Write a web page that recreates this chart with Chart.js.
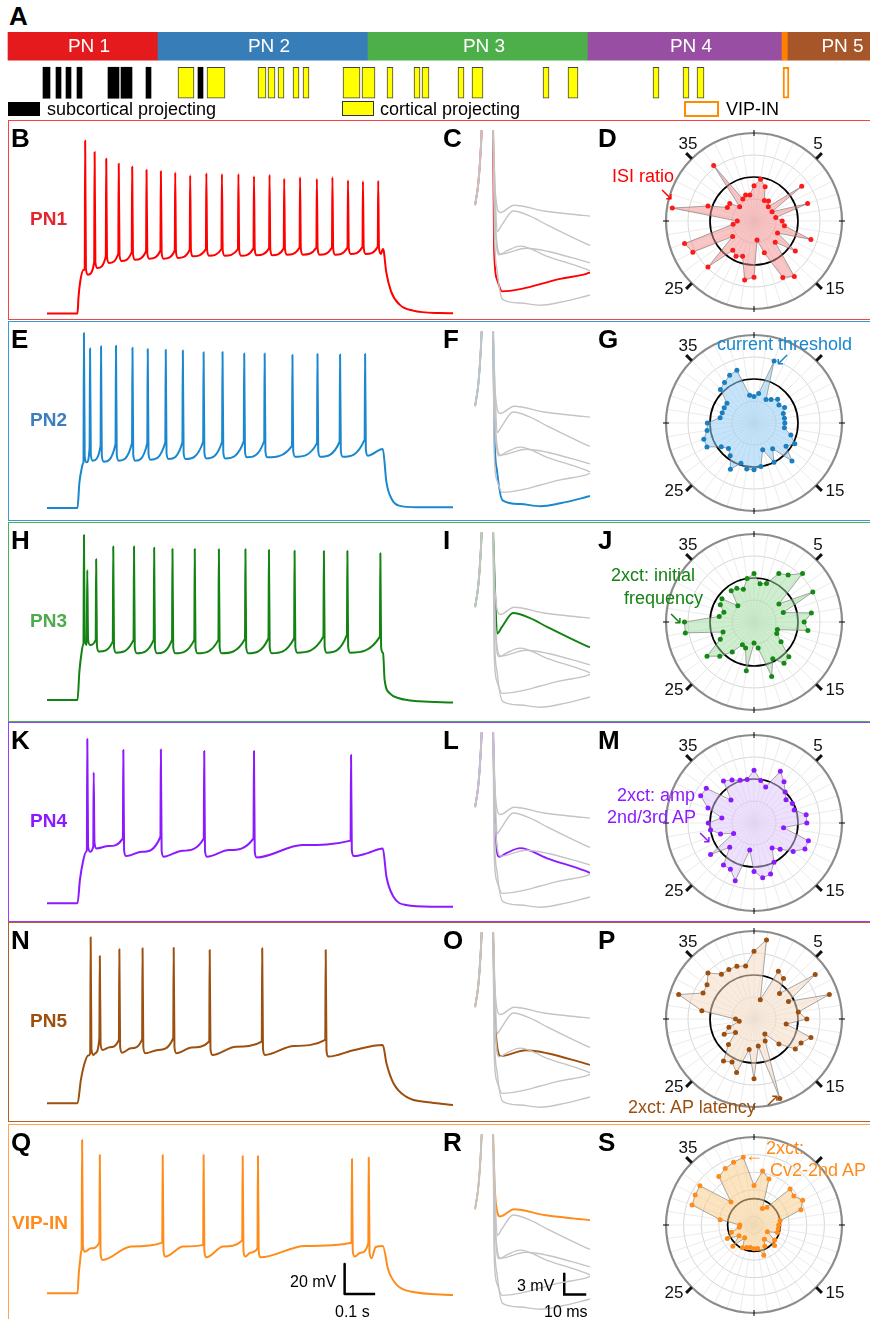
<!DOCTYPE html>
<html>
<head>
<meta charset="utf-8">
<title>Electrophysiological clusters</title>
<script src="https://cdn.jsdelivr.net/npm/chart.js@4.4.1/dist/chart.umd.min.js"></script>
<style>
  body { margin: 0; background: #fff; font-family: "Liberation Sans", Arial, sans-serif; }
  #page { position: relative; width: 870px; height: 1319px; overflow: hidden; }
  .abs { position: absolute; white-space: nowrap; line-height: 1; }
  .letter { font-weight: bold; font-size: 26px; color: #000; }
  .rowbox { position: absolute; left: 8px; width: 880px; height: 200px; box-sizing: border-box; border: 1.4px solid; }
  .rowname { font-weight: bold; font-size: 19px; }
  .tick { font-size: 17px; color: #111; transform: translate(-50%, -50%); }
  .note { font-size: 18px; }
  .legend { font-size: 18px; }
  .bar { font-size: 16px; }
  canvas { position: absolute; }
</style>
</head>
<body>
<div id="page">
  <div class="abs letter" style="left:9px;top:3px">A</div>
  <canvas id="clusters" width="870" height="73" style="left:0;top:28px"></canvas>
  <div class="abs" style="left:8px;top:102px;width:32px;height:14px;background:#000"></div>
  <div class="abs legend" style="left:47px;top:100px">subcortical projecting</div>
  <div class="abs" style="left:342px;top:101px;width:32px;height:15px;background:#ffff00;border:1px solid #333;box-sizing:border-box"></div>
  <div class="abs legend" style="left:380px;top:100px">cortical projecting</div>
  <div class="abs" style="left:684px;top:101px;width:35px;height:16px;border:2px solid #ff8c00;box-sizing:border-box"></div>
  <div class="abs legend" style="left:726px;top:100px">VIP-IN</div>
</div>
<script>
// ---- panel A: clusters along the dendrogram (x = leaf position) ----
const clusterNames = ['PN 1', 'PN 2', 'PN 3', 'PN 4', '', 'PN 5'];
const clusterStart = [8, 158, 368, 588, 782, 788];
const clusterEnd = [158, 368, 588, 782, 788, 885];
const subcorticalCells = [[43, 50], [56, 61], [66, 71], [77, 82], [108, 119], [121, 132], [146, 151], [198, 203]];
const corticalCells = [[178, 194], [207, 225], [258, 266], [268, 275], [278, 284], [293, 299], [303, 309], [343, 360], [362, 375],
  [387, 393], [414, 420], [422, 429], [458, 464], [472, 483], [543, 549], [568, 578], [653, 659], [683, 689], [697, 704]];
const vipCells = [[783, 789]];

// ---- voltage traces (t in s, Vm in mV) ----
const pn1Onset = [[0, -79], [0.003, -68.7], [0.009, -57.5], [0.02, -49.8]];
const pn1SpikeT = [0.025, 0.056, 0.094, 0.135, 0.179, 0.226, 0.273, 0.320, 0.369, 0.422, 0.473, 0.527, 0.578, 0.629, 0.677, 0.729, 0.784, 0.835, 0.886, 0.935, 0.985];
const pn1Pre = [-50, -45, -41, -39, -38, -37.5, -37, -37, -36.5, -36, -36, -36, -35.5, -35.5, -35.5, -35, -35, -35, -35, -34.5, -34.5];
const pn1Peak = [36.2, 28.7, 24.2, 20.9, 18.9, 16.7, 15.8, 15.1, 13.1, 14.5, 14.0, 14.0, 12.5, 13.5, 10.9, 11.8, 10.7, 11.8, 9.8, 9.1, 9.5];
const pn1Trough = [-53.1, -48.7, -45.3, -44.0, -43.1, -42.5, -42.5, -42.0, -40.9, -40.5, -40.5, -40.5, -40.2, -40.2, -39.8, -39.8, -39.8, -39.8, -39.3, -39.3, -39.3];
const pn1Offset = [[1.0, -36], [1.003, -37.1], [1.011, -50.9], [1.027, -64.2], [1.055, -73.1], [1.099, -77.1], [1.186, -78.7], [1.23, -78.8]];

const pn2Onset = [[0, -74.7], [0.006, -58], [0.014, -48], [0.019, -44.5]];
const pn2SpikeT = [0.021, 0.041, 0.077, 0.126, 0.180, 0.230, 0.289, 0.345, 0.413, 0.475, 0.546, 0.613, 0.704, 0.786, 0.860, 0.942];
const pn2Pre = [-44.2, -34.3, -33.2, -32, -31.4, -31.4, -30.9, -30.9, -30.5, -30.5, -30.3, -30, -33.2, -31.4, -30.5, -29.1];
const pn2Peak = [42, 31.7, 33.1, 33.5, 32.2, 31.3, 30.9, 30.4, 29.1, 29.3, 28.4, 28.4, 27.3, 28, 27.7, 28];
const pn2Trough = [-44.2, -43.1, -43.8, -43.1, -43.1, -42.5, -42, -42, -41.6, -41.6, -40.9, -40.9, -40.5, -40.5, -40.5, -39.8];
const pn2Offset = [[1.0, -35.4], [1.012, -57.6], [1.029, -68.7], [1.053, -73.1], [1.111, -74.2], [1.23, -74.2]];

const pn3Onset = [[0, -68.7], [0.006, -50], [0.014, -36], [0.019, -31.5]];
const pn3SpikeT = [0.021, 0.032, 0.061, 0.117, 0.185, 0.251, 0.311, 0.384, 0.463, 0.550, 0.627, 0.711, 0.807, 0.884, 0.992];
const pn3Pre = [-30.9, -24.2, -28.6, -29.7, -28.6, -28.6, -28.6, -28.6, -28.6, -28, -27.5, -27.5, -26.4, -25.3, -26.4];
const pn3Peak = [41.4, 18, 25.1, 33.6, 33.6, 32.9, 32, 32, 31.8, 31.8, 31.4, 30.9, 30.7, 30.7, 29.1];
const pn3Trough = [-32, -32, -36.4, -37.1, -37.5, -37.5, -37.5, -37.5, -37.5, -37.5, -37.5, -37.1, -37.1, -37.1, -37.5];
const pn3Offset = [[1.006, -55.3], [1.023, -64.2], [1.053, -67.5], [1.12, -69.5], [1.23, -70.4]];

const pn4Onset = [[0, -70.9], [0.008, -55], [0.018, -43], [0.028, -36.5]];
const pn4SpikeT = [0.032, 0.053, 0.150, 0.273, 0.415, 0.578, 0.896];
const pn4Pre = [-35.4, -33, -27.6, -26.5, -27.6, -27.6, -29.1];
const pn4Peak = [38.6, 16.4, 31.3, 31.7, 30.6, 30.6, 28];
const pn4Trough = [-36.5, -34.3, -39.4, -39.8, -39.8, -40.3, -39.4];
const pn4Mid = [null, -32.7, -36.5, -35.8, -35.4, -32, -37.6];
const pn4Offset = [[1.0, -34.3], [1.012, -53.2], [1.035, -66.5], [1.076, -72], [1.158, -73.1], [1.23, -73.1]];

const pn5Onset = [[0, -70.9], [0.011, -55.3], [0.023, -44.2], [0.035, -39]];
const pn5SpikeT = [0.043, 0.073, 0.137, 0.213, 0.315, 0.433, 0.605, 0.813];
const pn5Pre = [-37.5, -27.5, -28.6, -28.2, -27.5, -29.7, -29.7, -28.6];
const pn5Peak = [39.8, 27.4, 31.8, 32.5, 32.9, 31.4, 32.5, 31.4];
const pn5Trough = [-38.6, -35.3, -37.1, -37.5, -37.5, -38.6, -38.6, -39.7];
const pn5Mid = [-37.5, -33.5, -34.2, -35.3, -33.7, -33.1, -32.6, -35.3];
const pn5Offset = [[1.0, -32], [1.012, -44.2], [1.035, -57.5], [1.076, -66.4], [1.158, -70.4], [1.23, -72]];

const vipOnset = [[0, -62.9], [0.004, -50], [0.009, -40], [0.012, -35]];
const vipSpikeT = [0.015, 0.073, 0.279, 0.413, 0.541, 0.591, 0.899, 0.954];
const vipPre = [-34, -29.1, -29.1, -30.6, -27.7, -32.9, -29.1, -29.5];
const vipPeak = [39.4, 29.4, 29.4, 29.4, 28.7, 28.7, 26.7, 27.6];
const vipTrough = [-35.1, -40.6, -38.4, -38.9, -38.4, -38.9, -38.4, -39.5];
const vipMid = [-32.9, -31.7, -31.7, -31.7, -35.8, -31.3, -35.8, -32];
const vipOffset = [[1.0, -31.3], [1.018, -47.3], [1.046, -57.3], [1.092, -61.7], [1.23, -64]];

const traceScaleT = [0.875, 0.975];      // 0.1 s
const traceScaleMv = [-43.3, -63.3];     // 20 mV

// ---- first spike, zoomed (t in ms, Vm in mV relative to panel top) ----
const spikeRise = [[-8.2, -10.3], [-6.8, -7.5], [-5.9, -4.1], [-5.2, 0], [-2.7, 30], [0, 0]];
const ahpPN1 = [[0.45, -16.4], [1.8, -20.5], [4.1, -22.1], [12.3, -21.8], [21.4, -21.1], [30.5, -20.4], [42.3, -19.7], [44, -19.5]];
const ahpPN2 = [[0.6, -14], [1.8, -19.2], [4.3, -23.2], [12.3, -23.7], [21.4, -24], [30.5, -23.6], [41.6, -22.8], [44, -22.6]];
const ahpPN3 = [[0.9, -8.2], [1.8, -13.9], [4.0, -13.0], [9.1, -11.1], [16.8, -11.8], [24.5, -13], [41.6, -15.5], [44, -15.8]];
const ahpPN4 = [[0.9, -12.3], [2.7, -17.1], [6, -16.6], [12.3, -15.9], [24.5, -17.3], [41.6, -19], [44, -19.3]];
const ahpPN5 = [[0.9, -12.3], [3.5, -17], [14.9, -16.2], [24.5, -16.6], [41.6, -18], [44, -18.2]];
const ahpVIP = [[0.9, -8.2], [3.2, -11.3], [9.5, -10.3], [23.2, -11.1], [40.9, -11.7], [44, -11.8]];
const zoomScaleMs = [32.3, 42.3];        // 10 ms
const zoomScaleMv = [-19, -22];          // 3 mV

// ---- radar plots: 40 electrophysiological features (normalised) ----
const featureIds = Array.from({ length: 40 }, (_, i) => String(i));
const pn1Features = [0.40, 0.48, 0.41, 0.26, 0.28, 0.23, 0.67, 0.23, 0.64, 0.25, 0.32, 0.35, 0.68, 0.30, 0.58, 0.34, 0.78, 0.72, 0.38, 0.22,
  0.64, 0.68, 0.42, 0.45, 0.41, 0.74, 0.30, 0.78, 0.83, 0.24, 0.19, 0.94, 0.55, 0.34, 0.34, 0.23, 0.78, 0.28, 0.31, 0.30];
const pn2Features = [0.30, 0.34, 0.74, 0.30, 0.33, 0.38, 0.35, 0.39, 0.35, 0.35, 0.35, 0.35, 0.44, 0.52, 0.45, 0.61, 0.36, 0.50, 0.32, 0.50,
  0.53, 0.53, 0.48, 0.59, 0.46, 0.41, 0.46, 0.60, 0.60, 0.54, 0.53, 0.39, 0.38, 0.38, 0.38, 0.54, 0.57, 0.61, 0.63, 0.32];
const pn3Features = [0.55, 0.44, 0.46, 0.62, 0.66, 0.78, 0.35, 0.75, 0.35, 0.66, 0.57, 0.62, 0.28, 0.29, 0.38, 0.56, 0.58, 0.47, 0.65, 0.30,
  0.24, 0.56, 0.31, 0.29, 0.42, 0.55, 0.66, 0.43, 0.37, 0.79, 0.79, 0.40, 0.36, 0.43, 0.45, 0.26, 0.44, 0.43, 0.39, 0.50];
const pn4Features = [0.60, 0.49, 0.43, 0.66, 0.58, 0.50, 0.45, 0.49, 0.48, 0.60, 0.60, 0.34, 0.65, 0.65, 0.55, 0.42, 0.35, 0.50, 0.61, 0.63,
  0.55, 0.31, 0.69, 0.59, 0.59, 0.39, 0.61, 0.26, 0.40, 0.50, 0.52, 0.37, 0.55, 0.68, 0.67, 0.37, 0.59, 0.55, 0.51, 0.50];
const pn5Features = [0.77, 0.91, 0.23, 0.61, 0.57, 0.41, 0.86, 0.44, 0.90, 0.51, 0.60, 0.37, 0.68, 0.60, 0.58, 0.40, 0.21, 0.28, 0.95, 0.31,
  0.68, 0.35, 0.64, 0.55, 0.59, 0.41, 0.26, 0.38, 0.30, 0.17, 0.21, 0.60, 0.90, 0.65, 0.66, 0.74, 0.63, 0.63, 0.63, 0.61];
const vipFeatures = [0.45, 0.62, 0.55, 0.21, 0.25, 0.58, 0.56, 0.62, 0.56, 0.30, 0.28, 0.28, 0.28, 0.17, 0.29, 0.33, 0.20, 0.27, 0.36, 0.27,
  0.27, 0.26, 0.27, 0.29, 0.18, 0.34, 0.21, 0.34, 0.27, 0.17, 0.16, 0.39, 0.74, 0.75, 0.76, 0.37, 0.68, 0.72, 0.75, 0.78];
const spokeLabels = ['35', '5', '25', '15'];

// ---- styling ----
const clusterColors = ['#e41a1c', '#377eb8', '#4daf4a', '#984ea3', '#ff7f00', '#a65628'];
const rowNames = ['PN1', 'PN2', 'PN3', 'PN4', 'PN5', 'VIP-IN'];
const rowLetters = [['B', 'C', 'D'], ['E', 'F', 'G'], ['H', 'I', 'J'], ['K', 'L', 'M'], ['N', 'O', 'P'], ['Q', 'R', 'S']];
const rowTops = [120, 321, 522, 722, 922, 1124];
const radarCenterY = [101, 102, 100, 101, 97, 101];
const traceColors = ['#ff0000', '#1b87cf', '#138313', '#8c1aff', '#9c4f0e', '#ff8c1a'];
const nameColors = ['#e3262b', '#3b7fc0', '#4cab4c', '#8c1aff', '#9c4f0e', '#ff8c1a'];
const boxColors = ['#ff4040', '#3a9ad9', '#4caf50', '#9a3cff', '#b0602a', '#ffa54d'];
const radarFills = ['rgba(244,140,140,0.5)', 'rgba(150,205,245,0.55)', 'rgba(160,220,160,0.5)', 'rgba(222,195,252,0.5)', 'rgba(246,218,196,0.55)', 'rgba(252,205,140,0.55)'];
const dotColors = ['#ff1a1a', '#1a7fc1', '#148a14', '#8a1aff', '#9c4f0e', '#ff8c1a'];
const notes = [
  [['ISI ratio', 612, 167], ['\u2198', 659, 185]],
  [['current threshold', 717, 335], ['\u2199', 775, 350]],
  [['2xct: initial', 611, 566], ['frequency', 624, 589], ['\u2198', 668, 609]],
  [['2xct: amp', 617, 786], ['2nd/3rd AP', 607, 808], ['\u2198', 697, 828]],
  [['2xct: AP latency', 628, 1098], ['\u2197', 765, 1091]],
  [['\u2190', 745, 1146], ['2xct:', 766, 1139], ['Cv2-2nd AP', 770, 1161]]
];
const hiddenSpokeLabel = [null, '5', null, null, null, '5'];   // covered by the annotation

const page = document.getElementById('page');
function addDiv(cls, text, left, top, color) {
  const d = document.createElement('div');
  d.className = 'abs ' + cls;
  d.textContent = text;
  d.style.left = left + 'px';
  d.style.top = top + 'px';
  if (color) d.style.color = color;
  page.appendChild(d);
  return d;
}
function addCanvas(left, top, w, h) {
  const c = document.createElement('canvas');
  c.width = w; c.height = h;
  c.style.left = left + 'px'; c.style.top = top + 'px';
  page.appendChild(c);
  return c;
}

const quiet = { legend: { display: false }, tooltip: { enabled: false } };

// cluster names drawn in the middle of each coloured bar
const clusterLabels = {
  id: 'clusterLabels',
  afterDatasetsDraw(chart) {
    const ctx = chart.ctx;
    ctx.save();
    ctx.font = '19px "Liberation Sans", Arial, sans-serif';
    ctx.fillStyle = '#fff';
    ctx.textAlign = 'center';
    ctx.textBaseline = 'middle';
    chart.getDatasetMeta(0).data.forEach((bar, i) => {
      if (clusterNames[i]) ctx.fillText(clusterNames[i], (bar.x + bar.base) / 2 + 6, bar.y + 1);
    });
    ctx.restore();
  }
};

new Chart(document.getElementById('clusters'), {
  type: 'bar',
  data: {
    labels: ['clusters', 'cells'],
    datasets: [
      { data: clusterStart.map((s, i) => ({ x: [s, clusterEnd[i]], y: 'clusters' })), backgroundColor: clusterColors, barThickness: 28 },
      { data: subcorticalCells.map(c => ({ x: c, y: 'cells' })), backgroundColor: '#000', barThickness: 31 },
      { data: corticalCells.map(c => ({ x: c, y: 'cells' })), backgroundColor: '#ffff00', borderColor: '#444', borderWidth: 1, barThickness: 31 },
      { data: vipCells.map(c => ({ x: c, y: 'cells' })), backgroundColor: '#fff', borderColor: '#ff8c00', borderWidth: 2, barThickness: 31 }
    ]
  },
  options: {
    indexAxis: 'y', responsive: false, animation: false, events: [],
    datasets: { bar: { grouped: false, borderSkipped: false } },
    scales: { x: { type: 'linear', min: 0, max: 870, display: false }, y: { display: false } },
    plugins: quiet
  },
  plugins: [clusterLabels]
});

function buildTrace(onset, t, pre, peak, trough, mid, offset) {
  const pts = [{ x: -0.1, y: onset[0][1] }];
  onset.forEach(p => pts.push({ x: p[0], y: p[1] }));
  t.forEach((ti, i) => {
    pts.push({ x: ti - 0.0015, y: pre[i] }, { x: ti, y: peak[i] },
      { x: ti + 0.0025, y: trough[i] + 4 }, { x: ti + 0.009, y: trough[i] });
    if (mid && mid[i] != null) {
      const next = i + 1 < t.length ? t[i + 1] : 1.0;
      pts.push({ x: (ti + next) / 2, y: mid[i] });
    }
  });
  offset.forEach(p => pts.push({ x: p[0], y: p[1] }));
  return pts;
}

const traces = [
  buildTrace(pn1Onset, pn1SpikeT, pn1Pre, pn1Peak, pn1Trough, null, pn1Offset),
  buildTrace(pn2Onset, pn2SpikeT, pn2Pre, pn2Peak, pn2Trough, null, pn2Offset),
  buildTrace(pn3Onset, pn3SpikeT, pn3Pre, pn3Peak, pn3Trough, null, pn3Offset),
  buildTrace(pn4Onset, pn4SpikeT, pn4Pre, pn4Peak, pn4Trough, pn4Mid, pn4Offset),
  buildTrace(pn5Onset, pn5SpikeT, pn5Pre, pn5Peak, pn5Trough, pn5Mid, pn5Offset),
  buildTrace(vipOnset, vipSpikeT, vipPre, vipPeak, vipTrough, vipMid, vipOffset)
];
const ahps = [ahpPN1, ahpPN2, ahpPN3, ahpPN4, ahpPN5, ahpVIP];
const features = [pn1Features, pn2Features, pn3Features, pn4Features, pn5Features, vipFeatures];
const toXY = arr => arr.map(p => ({ x: p[0], y: p[1] }));

function near(a, b) { return Math.abs(a - b) < 1e-6; }

// reference ring, outer ring and tick marks of the radar plots
const radarFrame = {
  id: 'radarFrame',
  beforeDatasetsDraw(chart, args, opts) {
    const r = chart.scales.r, ctx = chart.ctx;
    const ring = (v, color, w) => {
      ctx.strokeStyle = color; ctx.lineWidth = w;
      ctx.beginPath(); ctx.arc(r.xCenter, r.yCenter, r.getDistanceFromCenterForValue(v), 0, 2 * Math.PI); ctx.stroke();
    };
    ctx.save();
    ring(1, '#8c8c8c', 2.2);
    ring(opts.black, '#000', 1.7);
    ctx.restore();
  },
  afterDraw(chart) {
    const r = chart.scales.r, ctx = chart.ctx, R = r.drawingArea;
    const seg = (i, a, b, w) => {
      const p = r.getPointPosition(i, a), q = r.getPointPosition(i, b);
      ctx.lineWidth = w;
      ctx.beginPath(); ctx.moveTo(p.x, p.y); ctx.lineTo(q.x, q.y); ctx.stroke();
    };
    ctx.save();
    ctx.strokeStyle = '#111';
    [0, 10, 20, 30].forEach(i => seg(i, R - 3, R + 3, 1.1));
    [5, 15, 25, 35].forEach(i => seg(i, R, R + 8, 3));
    ctx.restore();
  }
};

rowNames.forEach((name, k) => {
  const top = rowTops[k];
  const box = document.createElement('div');
  box.className = 'rowbox';
  box.style.top = top + 'px';
  box.style.borderColor = boxColors[k];
  page.appendChild(box);

  addDiv('letter', rowLetters[k][0], 11, top + 5);
  addDiv('letter', rowLetters[k][1], 443, top + 5);
  addDiv('letter', rowLetters[k][2], 598, top + 5);
  addDiv('rowname', name, k === 5 ? 12 : 30, top + 89, nameColors[k]);

  // firing pattern during the current step
  const traceSets = [{ data: traces[k], borderColor: traceColors[k], borderWidth: 2, cubicInterpolationMode: 'monotone' }];
  if (k === 5) {
    traceSets.push({
      data: [{ x: traceScaleT[0], y: traceScaleMv[0] }, { x: traceScaleT[0], y: traceScaleMv[1] }, { x: traceScaleT[1], y: traceScaleMv[1] }],
      borderColor: '#000', borderWidth: 2.5
    });
  }
  new Chart(addCanvas(47, top + 9, 406, 189), {
    type: 'line',
    data: { datasets: traceSets },
    options: {
      responsive: false, animation: false, events: [],
      elements: { point: { radius: 0 }, line: { tension: 0, borderJoinStyle: 'round' } },
      scales: { x: { type: 'linear', min: -0.1, max: 1.23, display: false }, y: { min: -82, max: 44, display: false } },
      plugins: quiet
    }
  });

  // first spike and after-hyperpolarisation, own cluster in colour on top of the others
  const zoomSets = [];
  ahps.forEach((a, j) => {
    if (j !== k) zoomSets.push({ data: toXY(spikeRise.concat(a)), borderColor: '#c4c4c4', borderWidth: 1.4, cubicInterpolationMode: 'monotone' });
  });
  zoomSets.push({ data: toXY(spikeRise.concat(ahps[k])), borderColor: traceColors[k], borderWidth: 1.9, cubicInterpolationMode: 'monotone' });
  if (k === 5) {
    zoomSets.push({
      data: [{ x: zoomScaleMs[0], y: zoomScaleMv[0] }, { x: zoomScaleMs[0], y: zoomScaleMv[1] }, { x: zoomScaleMs[1], y: zoomScaleMv[1] }],
      borderColor: '#000', borderWidth: 2.5
    });
  }
  new Chart(addCanvas(470, top + 10, 120, 188), {
    type: 'line',
    data: { datasets: zoomSets },
    options: {
      responsive: false, animation: false, events: [],
      elements: { point: { radius: 0 }, line: { tension: 0 } },
      scales: { x: { type: 'linear', min: -10.5, max: 44, display: false }, y: { min: -25.75, max: 0, display: false } },
      plugins: quiet
    }
  });

  // radar of the 40 features
  const cy = top + radarCenterY[k];
  const black = k === 5 ? 0.3 : 0.5;
  const rings = k === 5 ? [0.1, 0.4, 0.6, 0.8] : [0.25, 0.75];
  new Chart(addCanvas(654, cy - 100, 200, 200), {
    type: 'radar',
    data: {
      labels: featureIds,
      datasets: [{
        data: features[k], fill: 'origin', backgroundColor: radarFills[k],
        borderColor: 'rgba(110,110,110,0.75)', borderWidth: 0.8,
        pointBackgroundColor: dotColors[k], pointBorderWidth: 0, pointRadius: 2.5
      }]
    },
    options: {
      responsive: false, animation: false, events: [],
      layout: { padding: 12 },
      scales: {
        r: {
          min: 0, max: 1,
          ticks: { display: false, stepSize: 0.05 },
          pointLabels: { display: false },
          angleLines: { color: '#e6e6e6', lineWidth: 0.8 },
          grid: {
            circular: true,
            color: c => rings.some(v => near(v, c.tick.value)) ? '#d6d6d6' : 'rgba(0,0,0,0)',
            lineWidth: 1
          }
        }
      },
      plugins: Object.assign({ radarFrame: { black } }, quiet)
    },
    plugins: [radarFrame]
  });
  const offsets = [[-66, -78], [64, -78], [-80, 67], [81, 67]];
  spokeLabels.forEach((lab, i) => {
    if (lab !== hiddenSpokeLabel[k]) addDiv('tick', lab, 754 + offsets[i][0], cy + offsets[i][1]);
  });

  notes[k].forEach(n => addDiv('note', n[0], n[1], n[2], traceColors[k]));
});

// scale bar labels
addDiv('bar', '20 mV', 290, 1274);
addDiv('bar', '0.1 s', 335, 1304);
addDiv('bar', '3 mV', 517, 1278);
addDiv('bar', '10 ms', 544, 1304);
</script>
</body>
</html>
